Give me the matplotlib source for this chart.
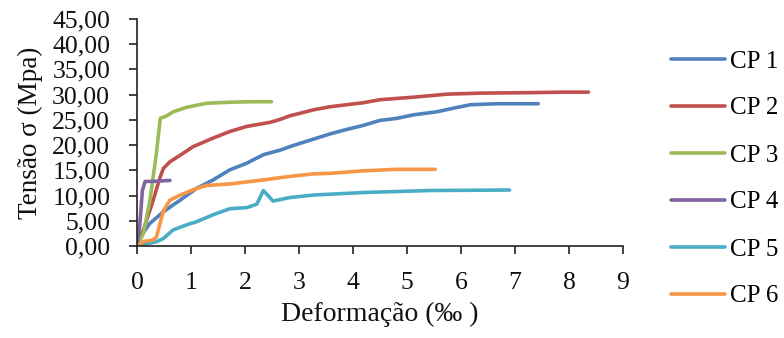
import matplotlib.pyplot as plt
from matplotlib.ticker import FixedLocator

plt.rcParams['font.family'] = ['Liberation Serif', 'DejaVu Serif']

# CP 1
cp1_x = [0, 0.06, 0.24, 0.49, 0.8, 1.1, 1.41, 1.72, 2.03, 2.34, 2.65, 2.83, 3.27, 3.57,
         3.88, 4.19, 4.5, 4.81, 5.12, 5.55, 5.85, 6.17, 6.66, 7.0, 7.43]
cp1_y = [0, 1.8, 4.5, 6.8, 9.1, 11.4, 13.1, 15.1, 16.4, 18.1, 19.0, 19.7, 21.2, 22.2,
         23.1, 23.9, 24.9, 25.3, 26.0, 26.6, 27.3, 28.0, 28.2, 28.2, 28.2]

# CP 2
cp2_x = [0, 0.12, 0.3, 0.43, 0.49, 0.61, 0.8, 1.04, 1.41, 1.72, 2.03, 2.46, 2.65, 2.83,
         3.27, 3.57, 4.19, 4.5, 5.12, 5.43, 5.74, 6.35, 7.28, 7.9, 8.36]
cp2_y = [0, 3.2, 9.1, 13.7, 15.4, 16.7, 18.0, 19.7, 21.4, 22.7, 23.7, 24.5, 25.1, 25.8,
         27.0, 27.6, 28.4, 29.0, 29.5, 29.8, 30.1, 30.3, 30.4, 30.5, 30.5]

# CP 3
cp3_x = [0, 0.12, 0.24, 0.36, 0.43, 0.55, 0.67, 0.92, 1.29, 1.72, 2.1, 2.49]
cp3_y = [0, 2.5, 9.1, 18.4, 25.3, 25.8, 26.6, 27.5, 28.3, 28.5, 28.6, 28.6]

# CP 4
cp4_x = [0, 0.05, 0.1, 0.15, 0.3, 0.45, 0.61]
cp4_y = [0, 4.0, 11.0, 12.8, 12.8, 12.9, 13.0]

# CP 5
cp5_x = [0, 0.36, 0.49, 0.67, 0.92, 1.1, 1.41, 1.72, 2.03, 2.22, 2.34, 2.52, 2.65,
         2.83, 3.27, 4.19, 5.43, 6.9]
cp5_y = [0, 0.85, 1.5, 3.2, 4.2, 4.8, 6.2, 7.4, 7.6, 8.3, 11.0, 8.9, 9.2,
         9.6, 10.1, 10.6, 11.0, 11.1]

# CP 6
cp6_x = [0, 0.12, 0.3, 0.36, 0.49, 0.61, 0.8, 1.1, 1.29, 1.72, 2.34, 2.83, 3.27, 3.57,
         4.19, 4.81, 5.52]
cp6_y = [0, 0.9, 1.2, 1.8, 7.0, 9.1, 10.1, 11.4, 12.0, 12.3, 13.1, 13.8, 14.3, 14.4,
         14.9, 15.2, 15.2]

series = [
    ('CP 1', cp1_x, cp1_y, '#4F81BD'),
    ('CP 2', cp2_x, cp2_y, '#C0504D'),
    ('CP 3', cp3_x, cp3_y, '#9BBB59'),
    ('CP 4', cp4_x, cp4_y, '#8064A2'),
    ('CP 5', cp5_x, cp5_y, '#4BACC6'),
    ('CP 6', cp6_x, cp6_y, '#F79646'),
]

x_ticks = [0, 1, 2, 3, 4, 5, 6, 7, 8, 9]
y_ticks = [0, 5, 10, 15, 20, 25, 30, 35, 40, 45]
y_tick_labels = ['0,00', '5,00', '10,00', '15,00', '20,00', '25,00',
                 '30,00', '35,00', '40,00', '45,00']

fig = plt.figure(figsize=(7.84, 3.38), dpi=100)
ax = fig.add_axes([137 / 784, 1 - 246 / 338, 486 / 784, 227 / 338])

for name, xs, ys, col in series:
    ax.plot(xs, ys, color=col, lw=2.6, label=name,
            solid_capstyle='round', solid_joinstyle='round')

ax.set_xlim(0, 9)
ax.set_ylim(0, 45)
ax.xaxis.set_major_locator(FixedLocator(x_ticks))
ax.set_yticks(y_ticks)
ax.set_yticklabels(y_tick_labels)

for s in ['top', 'right']:
    ax.spines[s].set_visible(False)
for s in ['left', 'bottom']:
    ax.spines[s].set_color('#222222')
    ax.spines[s].set_linewidth(1.2)

ax.tick_params(axis='both', direction='out', length=5.8, width=1.2,
               color='#222222', labelsize=18.5, labelcolor='#111111')
ax.tick_params(axis='x', pad=13)
ax.tick_params(axis='y', pad=13.5)

ax.set_xlabel('Deformação (‰ )', fontsize=20, color='#111111', labelpad=5.3)
ax.set_ylabel('Tensão σ (Mpa)', fontsize=19.5, color='#111111', labelpad=6.5)

# legend sits to the right of the plot, one entry per row
fig.legend(loc='upper left', bbox_to_anchor=(661 / 784, 1 - 40 / 338),
           frameon=False, fontsize=18, handlelength=2.16, handletextpad=0.2,
           labelspacing=0.98, borderaxespad=0)

fig.savefig('out.png', dpi=100)
